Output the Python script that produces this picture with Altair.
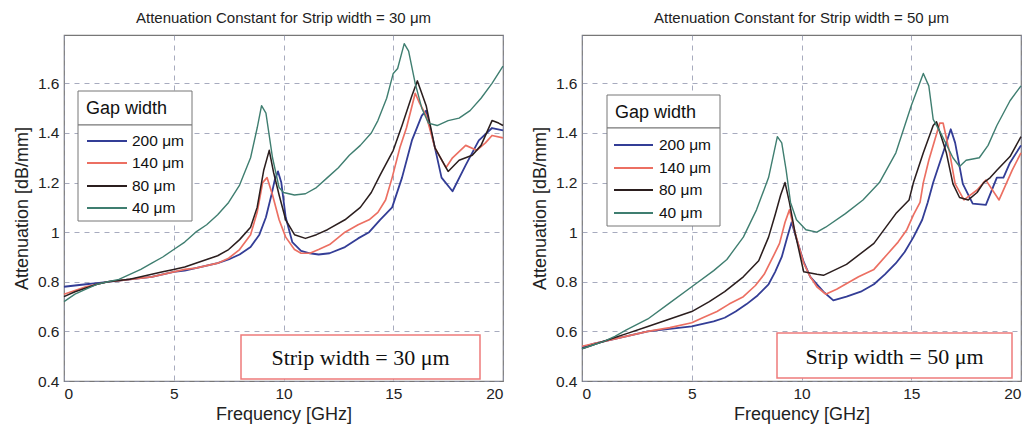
import altair as alt
import pandas as pd

gap_labels = ["200 μm", "140 μm", "80 μm", "40 μm"]
colors = ["#333d96", "#ec6f62", "#2b1e1e", "#3f7e70"]
widths = [1.8, 1.4, 2.3, 1.7]

x_ticks = [0, 5, 10, 15, 20]
y_ticks = [0.4, 0.6, 0.8, 1.0, 1.2, 1.4, 1.6]

# ---------- Strip width = 30 um ----------
f30_200 = [0, 0.5, 1, 1.5, 2, 2.5, 3, 3.5, 4, 4.5, 5, 5.5, 6, 6.5, 7, 7.5, 8, 8.5, 8.9, 9.2,
           9.45, 9.6, 9.75, 9.9, 10.1, 10.4, 10.8, 11.2, 11.6, 12.1, 12.8, 13.4, 13.9, 14.4, 14.95,
           15.4, 15.85, 16.3, 16.5, 16.9, 17.2, 17.7, 18.3, 18.9, 19.5, 20]
v30_200 = [0.78, 0.785, 0.79, 0.795, 0.80, 0.805, 0.81, 0.815, 0.82, 0.83, 0.84, 0.845, 0.855, 0.865,
           0.875, 0.89, 0.91, 0.94, 0.99, 1.06, 1.15, 1.21, 1.245, 1.2, 1.06, 0.96, 0.925, 0.915, 0.91,
           0.915, 0.94, 0.975, 1.0, 1.05, 1.10, 1.22, 1.37, 1.47, 1.49, 1.34, 1.22, 1.165, 1.27, 1.37,
           1.42, 1.41]

f30_140 = [0, 0.5, 1, 1.5, 2, 2.5, 3, 3.5, 4, 4.5, 5, 5.5, 6, 6.5, 7, 7.5, 8, 8.5, 8.8, 9.05,
           9.25, 9.5, 9.8, 10.1, 10.5, 10.8, 11.2, 11.6, 12.1, 12.8, 13.4, 13.9, 14.3, 14.65, 14.95,
           15.3, 15.6, 16.0, 16.2, 16.5, 16.9, 17.4, 17.7, 18.3, 18.8, 19.2, 19.5, 20]
v30_140 = [0.75, 0.765, 0.78, 0.79, 0.80, 0.805, 0.81, 0.815, 0.82, 0.83, 0.84, 0.85, 0.855, 0.865,
           0.875, 0.895, 0.93, 0.99, 1.08, 1.2, 1.22, 1.15, 1.05, 0.98, 0.93, 0.915, 0.915, 0.93, 0.95,
           1.0, 1.03, 1.05, 1.08, 1.13, 1.22, 1.34, 1.42, 1.56, 1.52, 1.47, 1.34, 1.26, 1.3, 1.35, 1.33,
           1.36, 1.39, 1.38]

f30_80 = [0, 0.5, 1, 1.5, 2, 2.5, 3, 3.5, 4, 4.5, 5, 5.5, 6, 6.5, 7, 7.5, 8, 8.5, 8.8, 9.1,
          9.35, 9.55, 9.8, 10.1, 10.5, 11, 11.5, 12, 12.8, 13.5, 14, 14.4, 15, 15.4, 15.85, 16.1,
          16.5, 16.9, 17.5, 18, 18.6, 19, 19.5, 19.8, 20]
v30_80 = [0.74, 0.76, 0.775, 0.79, 0.80, 0.805, 0.81, 0.82, 0.83, 0.84, 0.85, 0.86, 0.875, 0.89,
          0.905, 0.93, 0.97, 1.02, 1.1, 1.25, 1.33, 1.24, 1.15, 1.05, 0.99, 0.975, 0.99, 1.01, 1.05,
          1.1, 1.16, 1.23, 1.33, 1.43, 1.55, 1.61, 1.51, 1.34, 1.245, 1.29, 1.31, 1.35, 1.45, 1.44, 1.43]

f30_40 = [0, 0.5, 1, 1.5, 2, 2.5, 3, 3.5, 4, 4.5, 5, 5.5, 6, 6.5, 7, 7.5, 8, 8.5, 8.8, 9.0,
          9.2, 9.5, 9.8, 10, 10.5, 11, 11.5, 12, 12.5, 13, 13.5, 14, 14.3, 14.7, 15, 15.2, 15.5,
          15.7, 16, 16.3, 16.6, 17, 17.5, 18, 18.5, 19, 19.5, 20]
v30_40 = [0.72, 0.75, 0.77, 0.79, 0.80, 0.81, 0.83, 0.85, 0.875, 0.9, 0.93, 0.96, 1.0, 1.03, 1.07,
          1.12, 1.19, 1.3, 1.42, 1.51, 1.48, 1.3, 1.18, 1.16, 1.15, 1.155, 1.18, 1.22, 1.26, 1.31,
          1.35, 1.4, 1.45, 1.54, 1.64, 1.66, 1.76, 1.73, 1.6, 1.5, 1.44, 1.43, 1.45, 1.46, 1.49, 1.54,
          1.6, 1.67]

# ---------- Strip width = 50 um ----------
f50_200 = [0, 0.5, 1, 1.5, 2, 3, 4, 5, 6, 6.5, 7, 7.5, 8, 8.5, 8.8, 9.1, 9.35, 9.55, 9.75, 10.1,
           10.4, 11.0, 11.45, 12.05, 12.7, 13.3, 13.8, 14.3, 14.7, 15.1, 15.5, 15.75, 16.0, 16.45,
           16.8, 17.0, 17.35, 17.8, 18.4, 18.9, 19.2, 19.5, 20]
v50_200 = [0.535, 0.55, 0.56, 0.57, 0.58, 0.6, 0.61, 0.62, 0.64, 0.655, 0.68, 0.71, 0.745, 0.79,
           0.84, 0.9, 0.98, 1.04, 0.98, 0.88, 0.82, 0.76, 0.725, 0.74, 0.76, 0.79, 0.83, 0.875, 0.92,
           0.98, 1.05, 1.12, 1.2, 1.32, 1.415, 1.36, 1.195, 1.115, 1.11, 1.22, 1.22, 1.28, 1.35]

f50_140 = [0, 0.5, 1, 1.5, 2, 3, 4, 5, 5.5, 6.15, 6.7, 7.35, 7.9, 8.3, 8.7, 9.0, 9.25, 9.45, 9.7,
           10.1, 10.4, 10.7, 11.1, 11.6, 12.0, 12.6, 13.3, 13.9, 14.4, 14.8, 15.1, 15.4, 15.55, 15.8,
           16.3, 16.45, 16.75, 17.0, 17.4, 18.0, 18.4, 19.0, 19.6, 20]
v50_140 = [0.54, 0.55, 0.56, 0.57, 0.58, 0.6, 0.615, 0.635, 0.655, 0.68, 0.71, 0.74, 0.785, 0.83,
           0.9, 0.955, 1.04, 1.09, 1.0, 0.875, 0.82, 0.78, 0.75, 0.77, 0.79, 0.82, 0.85, 0.91, 0.96,
           1.01, 1.07, 1.12, 1.2, 1.29, 1.44, 1.44, 1.32, 1.195, 1.13, 1.17, 1.21, 1.13, 1.25, 1.32]

f50_80 = [0, 0.5, 1, 1.5, 2, 3, 4, 5, 5.8, 6.5, 7.35, 8.05, 8.5, 8.8, 9.05, 9.25, 9.45, 9.7, 10.1,
          10.7, 11.0, 12.05, 13.3, 14.3, 14.9, 15.1, 15.55, 16.0, 16.15, 16.6, 16.9, 17.2, 17.6, 18.0,
          18.3, 18.6, 18.9, 19.5, 20]
v50_80 = [0.53, 0.545, 0.56, 0.575, 0.59, 0.62, 0.65, 0.68, 0.72, 0.76, 0.82, 0.885, 0.98, 1.07,
          1.15, 1.2, 1.12, 1.0, 0.84, 0.83, 0.826, 0.87, 0.955, 1.075, 1.13, 1.2, 1.32, 1.43, 1.445,
          1.32, 1.195, 1.14, 1.13, 1.16, 1.2, 1.22, 1.25, 1.305, 1.385]

f50_40 = [0, 0.5, 1, 1.5, 2, 3, 4, 5, 6, 6.6, 7.35, 7.95, 8.5, 8.9, 9.1, 9.3, 9.5, 9.77, 10.2, 10.7,
          11.1, 12.0, 12.8, 13.55, 14.3, 15.0, 15.55, 15.8, 16.0, 16.4, 16.9, 17.2, 17.5, 18.1, 18.5,
          18.9, 19.5, 20]
v50_40 = [0.53, 0.545, 0.56, 0.58, 0.605, 0.65, 0.715, 0.78, 0.845, 0.89, 0.98, 1.09, 1.22, 1.385,
          1.36, 1.25, 1.12, 1.05, 1.01, 1.0, 1.02, 1.075, 1.13, 1.2, 1.32, 1.51, 1.64, 1.59, 1.455,
          1.39, 1.3, 1.265, 1.29, 1.3, 1.35, 1.43, 1.53, 1.59]

series30 = [(f30_200, v30_200), (f30_140, v30_140), (f30_80, v30_80), (f30_40, v30_40)]
series50 = [(f50_200, v50_200), (f50_140, v50_140), (f50_80, v50_80), (f50_40, v50_40)]


def make_df(series):
    rows = []
    for label, (fs, vs) in zip(gap_labels, series):
        assert len(fs) == len(vs), label
        for i, (f, v) in enumerate(zip(fs, vs)):
            rows.append({"f": f, "v": v, "gap": label, "i": i})
    return pd.DataFrame(rows)


FONT = "Liberation Sans"
W, H = 439, 346
one = pd.DataFrame({"k": [0]})  # single row for decorations


def panel(series, title, strip_text, leg, anno):
    df = make_df(series)
    lines = alt.Chart(df).mark_line(strokeJoin="round").encode(
        x=alt.X("f:Q", title="Frequency [GHz]",
                scale=alt.Scale(domain=[0, 20], nice=False),
                axis=alt.Axis(values=x_ticks, format="~g")),
        y=alt.Y("v:Q", title="Attenuation [dB/mm]",
                scale=alt.Scale(domain=[0.4, 1.795], nice=False, zero=False),
                axis=alt.Axis(values=y_ticks, format=".2~g")),
        color=alt.Color("gap:N", scale=alt.Scale(domain=gap_labels, range=colors), legend=None),
        strokeWidth=alt.StrokeWidth("gap:N", scale=alt.Scale(domain=gap_labels, range=widths),
                                    legend=None),
        order=alt.Order("i:Q"),
    )
    layers = [lines]
    lx0, lx1, ty0, ty1, ey1, line_x0, line_x1, text_x, entry_y = leg
    layers.append(alt.Chart(one).mark_rect(fill="white", stroke="#777777", strokeWidth=1).encode(
        x=alt.value(lx0), x2=alt.value(lx1), y=alt.value(ty0), y2=alt.value(ty1)))
    layers.append(alt.Chart(one).mark_rect(fill="white", stroke="#777777", strokeWidth=1).encode(
        x=alt.value(lx0), x2=alt.value(lx1), y=alt.value(ty1), y2=alt.value(ey1)))
    layers.append(alt.Chart(one).mark_text(text="Gap width", align="left", baseline="middle",
                                           font=FONT, fontSize=18, color="#111111").encode(
        x=alt.value(lx0 + 8), y=alt.value((ty0 + ty1) / 2 + 1)))
    for k, (lab, col) in enumerate(zip(gap_labels, colors)):
        yy = entry_y[k]
        layers.append(alt.Chart(one).mark_rule(color=col, strokeWidth=2.2).encode(
            x=alt.value(line_x0), x2=alt.value(line_x1), y=alt.value(yy)))
        layers.append(alt.Chart(one).mark_text(text=lab, align="left", baseline="middle",
                                               font=FONT, fontSize=15.5, color="#111111").encode(
            x=alt.value(text_x), y=alt.value(yy)))
    ax0, ax1, ay0, ay1 = anno
    layers.append(alt.Chart(one).mark_rect(fill="white", stroke="#ee7b7b", strokeWidth=1.5).encode(
        x=alt.value(ax0), x2=alt.value(ax1), y=alt.value(ay0), y2=alt.value(ay1)))
    layers.append(alt.Chart(one).mark_text(text=strip_text, align="center", baseline="middle",
                                           font="Liberation Serif", fontSize=22,
                                           color="#111111").encode(
        x=alt.value((ax0 + ax1) / 2), y=alt.value((ay0 + ay1) / 2 + 1)))
    return alt.layer(*layers).properties(
        width=W, height=H,
        title=alt.TitleParams(title, fontSize=15, font=FONT, fontWeight="normal",
                              color="#222222", offset=9))


left = panel(series30, "Attenuation Constant for Strip width = 30 μm", "Strip width = 30 μm",
             (14, 128, 56, 90, 186, 23, 63, 68, [106, 128, 151, 173]),
             (177, 416, 300, 344))
right = panel(series50, "Attenuation Constant for Strip width = 50 μm", "Strip width = 50 μm",
              (25, 138, 60, 93, 191, 32, 71, 77, [110, 133, 155, 178]),
              (195, 430, 298, 343))

chart = alt.hconcat(left, right, spacing=79, bounds="flush").properties(
    padding={"left": 12, "top": 10, "right": 5, "bottom": 5}
).configure_view(
    stroke="#777777", strokeWidth=1.2
).configure_axis(
    grid=True, gridDash=[5, 5], gridColor="#8a8fa8", gridOpacity=0.75, gridWidth=1,
    domain=False, ticks=False, labelFont=FONT, labelFontSize=15.5, labelColor="#222222",
    titleFont=FONT, titleFontSize=18, titleFontWeight="normal", titleColor="#222222",
    labelPadding=5,
).configure_axisY(titlePadding=6).configure_axisX(titlePadding=4)

chart.save("out.html", embed_options={"renderer": "svg", "actions": False})
